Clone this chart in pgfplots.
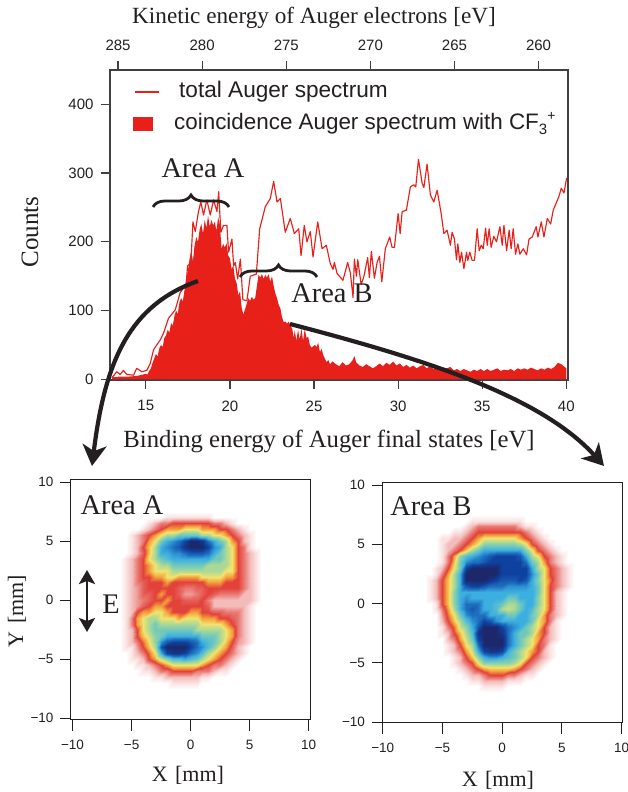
\documentclass[border=0pt]{standalone}
\usepackage{fontspec}
\setmainfont{Liberation Serif}
\setsansfont{Liberation Sans}
\usepackage{pgfplots}
\usepackage{pgfplotstable}
\pgfplotsset{compat=1.18}
\usetikzlibrary{arrows.meta,decorations.pathreplacing}
\definecolor{sred}{RGB}{232,32,26}
\definecolor{ink}{RGB}{35,31,32}
\definecolor{frame}{RGB}{64,64,64}
\pgfplotstableread{
x y
12.98 2
13.27 11
13.47 7
13.67 13
13.87 7
14.27 6
14.46 16
14.76 11
15.06 13
15.26 23
15.46 43
15.65 50
15.85 57
16.05 67
16.35 89
16.75 101
17.04 126
17.40 138
17.48 165
17.68 170
17.80 229
17.94 215
18.13 244
18.27 258
18.43 239
18.63 261
18.83 239
19.03 261
19.23 244
19.33 273
19.46 214
19.62 224
19.82 224
19.92 185
20.12 204
20.22 165
20.32 170
20.46 146
20.62 175
20.77 116
21.01 114
21.21 150
21.57 153
21.77 219
22.10 251
22.40 263
22.60 288
22.80 258
23.00 263
23.29 214
23.59 234
23.83 212
24.09 219
24.23 180
24.42 224
24.58 200
24.78 215
24.94 178
25.22 229
25.48 190
25.73 195
25.97 168
26.13 160
26.21 170
26.37 154
26.72 144
27.0 170
27.16 155
27.32 119
27.40 175
27.52 150
27.60 174
27.80 138
27.95 148
28.19 177
28.29 148
28.41 186
28.59 147
28.75 170
28.89 179
29.03 142
29.24 190
29.50 207
29.64 192
29.78 192
30.0 241
30.12 212
30.24 244
30.49 246
30.73 280
30.93 283
31.05 280
31.21 320
31.43 285
31.53 279
31.72 313
31.92 268
32.12 258
32.32 275
32.56 241
32.72 212
32.91 217
33.11 195
33.21 214
33.35 204
33.47 174
33.55 197
33.67 170
33.77 185
33.91 161
34.07 185
34.14 173
34.26 185
34.40 173
34.54 173
34.70 219
34.82 187
34.94 195
35.06 190
35.20 220
35.30 195
35.41 219
35.53 192
35.69 208
35.85 200
36.05 222
36.19 195
36.29 224
36.45 187
36.60 217
36.72 190
36.84 219
36.98 182
37.12 197
37.24 182
37.44 190
37.64 181
37.78 204
37.97 207
38.21 222
38.31 207
38.51 229
38.67 207
38.87 234
39.07 226
39.22 246
39.56 266
39.70 278
39.86 271
40.02 293
}\tabTotal
\pgfplotstableread{
x y
13.0 3
13.5 4
14.0 4
14.5 5
15.0 8
15.1 7
15.2 12
15.3 16
15.4 24
15.5 30
15.6 37
15.7 33
15.8 45
15.9 50
16.0 47
16.1 60
16.2 64
16.3 72
16.4 68
16.5 82
16.6 78
16.7 92
16.8 100
16.9 95
17.0 112
17.1 118
17.2 113
17.3 130
17.4 146
17.5 158
17.6 175
17.7 187
17.8 172
17.9 195
18.0 207
18.1 200
18.2 218
18.3 226
18.4 212
18.5 232
18.6 220
18.7 238
18.8 222
18.9 232
19.0 224
19.1 229
19.2 216
19.3 236
19.4 226
19.5 190
19.6 197
19.7 192
19.8 198
19.9 180
20.0 176
20.1 160
20.2 166
20.3 146
20.4 140
20.5 122
20.6 128
20.7 104
20.8 94
20.9 102
21.0 110
21.1 118
21.2 114
21.3 120
21.4 116
21.5 118
21.6 135
21.7 152
21.8 148
21.9 153
22.0 146
22.1 152
22.2 148
22.3 153
22.4 142
22.5 150
22.6 136
22.7 125
22.8 118
22.9 108
23.0 103
23.1 90
23.2 83
23.3 84
23.4 81
23.5 84
23.6 78
23.7 74
23.8 60
23.85 72
23.95 56
24.05 72
24.15 58
24.25 74
24.35 56
24.45 74
24.55 60
24.65 62
24.75 50
24.85 46
24.95 48
25.05 50
25.15 47
25.25 53
25.35 40
25.45 44
25.55 35
25.65 30
25.75 25
25.85 28
25.95 22
26.1 26
26.3 22
26.5 19
26.7 25
26.9 20
27.1 22
27.3 28
27.4 34
27.5 25
27.7 20
27.9 18
28.1 22
28.3 19
28.5 16
28.7 19
28.9 23
29.1 19
29.3 24
29.5 21
29.7 26
29.9 20
30.1 23
30.3 18
30.5 21
30.7 17
30.9 20
31.1 16
31.3 19
31.5 21
31.7 16
31.9 19
32.1 15
32.3 18
32.5 14
32.7 17
32.9 16
33.1 18
33.3 13
33.5 15
33.7 12
33.9 15
34.1 13
34.3 11
34.5 14
34.7 12
34.9 15
35.1 12
35.3 15
35.5 12
35.7 14
35.9 16
36.1 12
36.3 14
36.5 13
36.7 15
36.9 12
37.1 16
37.3 14
37.5 16
37.7 14
37.9 17
38.1 15
38.3 13
38.5 16
38.7 14
38.9 17
39.1 15
39.3 18
39.5 24
39.7 22
39.85 19
40.0 16
}\tabCoin
\pgfplotstableread[row sep=crcr]{
z\\
0\\0\\0\\0\\0\\0\\0\\0\\0\\0\\0\\0\\0\\0\\0\\0\\0\\0\\0\\0\\0\\0\\0\\0\\0\\0\\
0\\0\\0\\0\\0\\0\\0\\0\\0\\1\\1\\1\\1\\1\\1\\1\\1\\0\\0\\0\\0\\0\\0\\0\\0\\0\\
0\\0\\0\\0\\0\\0\\1\\2\\3\\3\\4\\4\\4\\4\\4\\4\\4\\3\\3\\2\\1\\0\\0\\0\\0\\0\\
0\\0\\0\\0\\0\\1\\2\\3\\4\\5\\5\\5\\6\\6\\6\\5\\5\\5\\4\\4\\3\\2\\1\\0\\0\\0\\
0\\0\\0\\1\\2\\3\\4\\5\\6\\7\\7\\8\\8\\8\\8\\7\\7\\6\\6\\5\\4\\3\\2\\1\\0\\0\\
0\\0\\0\\1\\2\\3\\5\\6\\8\\9\\9.5\\10\\11\\12\\12\\11.5\\10\\9\\8\\7\\5\\4\\2\\1\\0\\0\\
0\\0\\0\\1\\2\\4\\5.5\\7\\9\\9.5\\10\\10.5\\11.5\\12\\12\\12\\11\\9.5\\9\\7\\6\\4\\3\\1\\0\\0\\
0\\0\\0\\1\\2\\3.5\\5.5\\7\\9\\9\\9.5\\9.5\\10\\10.5\\10.5\\10.5\\10\\9\\8\\7\\6\\4\\3\\2\\1\\0\\
0\\0\\1\\2\\3\\4\\6\\7\\8\\8.5\\9\\9\\9\\9\\9\\9\\9\\8\\8\\7\\6\\4\\3\\2\\1\\0\\
0\\0\\1\\2\\3\\4\\5\\6\\7\\7\\8\\8\\8\\8\\8\\8\\7\\7\\7\\7\\6\\4\\3\\2\\1\\0\\
0\\0\\1\\2\\3\\4\\5\\6\\6\\6\\7\\7\\7\\7\\7\\7\\7\\7\\7\\6\\6\\4\\3\\2\\1\\0\\
0\\0\\1\\2\\3\\4\\4\\5\\5\\6\\6\\5\\5\\5\\5\\6\\6\\6\\6\\5\\5\\4\\3\\2\\1\\0\\
0\\0\\1\\2\\3\\3.5\\4\\4\\4\\5\\4\\4\\4\\4\\4\\4\\5\\5\\5\\4\\4\\4\\3\\2\\1\\0\\
0\\0\\1\\2\\2.5\\3.5\\4\\4\\4\\4\\4\\3.5\\3\\3\\3.5\\3.5\\4\\4\\4\\4\\4\\4\\3\\2\\1\\0\\
0\\0\\1\\2\\2.5\\3.5\\3.5\\4\\5\\4\\4\\3.5\\2.5\\2.5\\3\\3.5\\4\\3.5\\3\\3\\3\\3\\2\\2\\1\\0\\
0\\0\\1\\2\\2.5\\3\\3.5\\4\\4\\5\\4\\4\\3.5\\3.5\\3.5\\4\\3\\2\\2\\2\\2\\2\\2\\2\\1\\0\\
0\\0\\1\\2\\2.5\\3.5\\4\\5\\5\\4\\4\\4\\4\\4\\4\\4\\3.5\\2\\2\\2\\2\\2\\2\\1\\0\\0\\
0\\0\\1\\2\\4\\5\\5\\6\\6\\5\\4\\4\\4\\5\\5\\4\\4\\3.5\\3.5\\3\\3\\3\\2\\1\\0\\0\\
0\\0\\1\\3\\5\\6\\7\\7\\6\\6\\6\\5\\6\\6\\6\\5\\5\\5\\4\\4\\3.5\\3\\2\\1\\0\\0\\
0\\0\\1\\3\\5\\6\\7\\8\\7\\7\\7\\7\\7\\7\\7\\6\\6\\6\\6\\5\\4\\3\\2\\1\\0\\0\\
0\\0\\1\\2\\4\\6\\7\\8\\8\\8\\8\\8\\8\\8\\7\\7\\7\\7\\7\\6\\5\\3\\2\\1\\0\\0\\
0\\0\\1\\2\\4\\5.5\\6.5\\7.5\\8\\9\\9\\9\\9\\9\\9\\8\\8\\8\\7\\6\\5\\3\\2\\1\\0\\0\\
0\\0\\1\\2\\3\\4.5\\6\\7.5\\9.5\\10.5\\11\\11\\11\\10.5\\10\\9\\8.5\\8\\7\\5.5\\4\\2.5\\2\\1\\0\\0\\
0\\0\\1\\1\\2.5\\4\\5.5\\7\\10.5\\12\\12\\12\\12\\11\\10\\9.5\\8.5\\7.5\\6\\5\\3.5\\2\\1\\0\\0\\0\\
0\\0\\0\\1\\2\\3\\4.5\\6\\9\\11\\11.5\\11.5\\11\\10\\9.5\\8.5\\7\\6\\5\\4\\3\\2\\1\\0\\0\\0\\
0\\0\\0\\1\\1\\2\\4\\5\\6.5\\7.5\\8.5\\8.5\\9\\8.5\\8\\7\\6\\5\\4\\3\\2\\1\\0\\0\\0\\0\\
0\\0\\0\\0\\1\\1\\2\\3\\4\\5\\6\\6\\6\\6\\6\\5\\4\\3\\3\\2\\1\\0\\0\\0\\0\\0\\
0\\0\\0\\0\\0\\1\\1\\2\\3\\3\\4\\4\\4\\4\\3\\3\\3\\2\\1\\1\\0\\0\\0\\0\\0\\0\\
0\\0\\0\\0\\0\\0\\0\\1\\1\\2\\2\\2\\2\\2\\2\\1\\1\\0\\0\\0\\0\\0\\0\\0\\0\\0\\
0\\0\\0\\0\\0\\0\\0\\0\\0\\0\\1\\1\\1\\1\\1\\0\\0\\0\\0\\0\\0\\0\\0\\0\\0\\0\\
0\\0\\0\\0\\0\\0\\0\\0\\0\\0\\0\\0\\0\\0\\0\\0\\0\\0\\0\\0\\0\\0\\0\\0\\0\\0\\
}\tabA
\pgfplotstableread[row sep=crcr]{
z\\
0\\0\\0\\0\\0\\0\\0\\0\\0\\0\\0\\0\\0\\0\\0\\0\\0\\0\\0\\0\\0\\0\\0\\0\\0\\0\\
0\\0\\0\\0\\0\\0\\0\\0\\1\\1\\1\\1\\1\\1\\1\\1\\1\\0\\0\\0\\0\\0\\0\\0\\0\\0\\
0\\0\\0\\0\\0\\0\\0\\1\\2\\3\\3\\3\\3\\3\\3\\3\\2\\1\\1\\0\\0\\0\\0\\0\\0\\0\\
0\\0\\0\\0\\0\\1\\1\\2\\3\\4\\4\\4\\4\\4\\4\\4\\4\\3\\2\\1\\0\\0\\0\\0\\0\\0\\
0\\0\\0\\1\\1\\2\\2\\3\\4\\5\\6\\6\\6\\6\\6\\6\\5\\4\\3\\2\\1\\0\\0\\0\\0\\0\\
0\\0\\0\\1\\2\\2\\3\\4\\5\\6\\7.5\\7.5\\7.5\\7.5\\7.5\\7.5\\7\\6\\4\\3\\2\\1\\0\\0\\0\\0\\
0\\0\\0\\1\\2\\3\\4\\5.5\\7\\8\\9\\9\\9\\9\\9\\9\\9\\7.5\\6\\4\\3\\2\\1\\0\\0\\0\\
0\\0\\0\\1\\3\\5\\7.5\\8.5\\9\\9.5\\10\\10.5\\11\\11\\11\\11\\10.5\\9\\7\\6\\4\\3\\2\\1\\0\\0\\
0\\0\\0\\1\\3\\5.5\\8\\9.5\\10\\10\\10.5\\11\\11\\11\\11\\11\\11\\10\\8\\7\\5\\3\\2\\1\\0\\0\\
0\\0\\1\\2\\4\\6\\8\\11\\12\\12\\12\\12\\12\\11\\11\\11\\11\\11\\9\\7\\6\\4\\3\\2\\1\\0\\
0\\0\\1\\3\\5\\7\\9\\12\\12\\12\\12\\12\\12\\11\\11\\11\\11\\11\\9.5\\8\\6\\4\\3\\2\\1\\0\\
0\\1\\2\\4\\5.5\\7\\9\\12\\12\\12\\12\\11.5\\11\\10.5\\10.5\\10.5\\11\\10.5\\9\\7.5\\6\\4.5\\3\\2\\1\\0\\
0\\1\\2\\4\\5.5\\7\\9\\10.5\\11\\11\\10.5\\10\\10\\10\\9.5\\9.5\\9.5\\9.5\\9\\8\\6\\4\\3\\2\\1\\0\\
0\\1\\2\\4\\5.5\\7.5\\9\\9\\9\\9\\9\\9\\9\\9\\9\\9\\9\\9\\9\\8\\6\\4\\2\\1\\0\\0\\
0\\1\\2\\4\\5.5\\7.5\\9\\9.5\\9\\9\\9\\9\\9\\9\\8\\8\\9\\9\\9\\7.5\\6\\4\\2\\1\\0\\0\\
0\\0\\1\\4\\5.5\\7.5\\9\\10\\10\\10\\9\\9\\8.5\\8\\7\\7\\8\\9\\9\\7.5\\6\\4\\2\\1\\0\\0\\
0\\0\\1\\3\\5\\7\\9\\10\\10.5\\10\\9\\9\\8.5\\7\\6.5\\7\\8\\9\\8.5\\7\\6\\4\\2\\1\\0\\0\\
0\\0\\0\\2.5\\4.5\\6\\8\\9.5\\10\\10\\10\\9\\9\\9\\8\\8\\9\\9\\8\\7\\5\\3\\2\\1\\0\\0\\
0\\0\\0\\2\\4\\5.5\\7\\8.5\\9.5\\10\\11\\10.5\\9.5\\9\\9\\9\\9\\9\\8\\6\\5\\3\\1\\0\\0\\0\\
0\\0\\0\\1\\3\\4.5\\6.5\\7.5\\9\\10.5\\12\\12\\12\\11\\10\\9.5\\9\\8\\7\\6\\4\\2\\1\\0\\0\\0\\
0\\0\\0\\1\\2\\4\\5.5\\7\\8.5\\11.5\\12\\12\\12\\11.5\\10\\9\\8\\8\\7\\5\\4\\2\\1\\0\\0\\0\\
0\\0\\0\\0\\2\\3\\5\\6.5\\8\\11\\12\\12\\12\\12\\10\\9\\8\\7\\6\\5\\3\\2\\1\\0\\0\\0\\
0\\0\\0\\0\\1\\2\\4\\6\\7\\10\\12\\12\\12\\12\\10\\9\\8\\7\\6\\4\\3\\1\\0\\0\\0\\0\\
0\\0\\0\\0\\1\\2\\3\\5\\6.5\\9\\11\\11.5\\11.5\\11\\9\\8\\7\\6\\5\\4\\2\\1\\0\\0\\0\\0\\
0\\0\\0\\0\\0\\1\\2\\4\\5.5\\7.5\\9\\9.5\\9.5\\9\\8.5\\8\\7\\6\\4\\3\\2\\1\\0\\0\\0\\0\\
0\\0\\0\\0\\0\\1\\2\\3\\4\\6\\7.5\\7.5\\7.5\\7.5\\7.5\\7\\6\\4\\3\\2\\1\\0\\0\\0\\0\\0\\
0\\0\\0\\0\\0\\0\\1\\2\\3\\4\\5\\5.5\\5.5\\5.5\\5.5\\5\\4\\3\\2\\1\\0\\0\\0\\0\\0\\0\\
0\\0\\0\\0\\0\\0\\0\\1\\2\\2\\3\\4\\4\\4\\3\\3\\2\\1\\1\\0\\0\\0\\0\\0\\0\\0\\
0\\0\\0\\0\\0\\0\\0\\0\\1\\1\\2\\2\\2\\2\\1\\1\\1\\0\\0\\0\\0\\0\\0\\0\\0\\0\\
0\\0\\0\\0\\0\\0\\0\\0\\0\\0\\1\\1\\1\\1\\0\\0\\0\\0\\0\\0\\0\\0\\0\\0\\0\\0\\
0\\0\\0\\0\\0\\0\\0\\0\\0\\0\\0\\0\\0\\0\\0\\0\\0\\0\\0\\0\\0\\0\\0\\0\\0\\0\\
}\tabB
\pgfplotsset{
  base/.style={scale only axis, tick align=outside, major tick length=9pt, axis line style={frame,line width=1.4pt},
    tick style={frame,line width=1.2pt}, minor tick num=0,
    ticklabel style={font=\sffamily\fontsize{15}{17}\selectfont, text=ink},
    xticklabel style={yshift=-8pt}, yticklabel style={xshift=-4pt},
    /pgf/number format/assume math mode=true, clip=true},
  heat/.style={scale only axis, tick align=outside, major tick length=10.5pt, axis line style={ink,line width=1pt},
    tick style={ink,line width=1pt}, xtick={-10,-5,0,5,10}, ytick={-10,-5,0,5,10},
    xticklabels={−10,−5,0,5,10}, yticklabels={−10,−5,0,5,10},
    xtick pos=bottom, ytick pos=left, width=240pt, height=240pt,
    ticklabel style={font=\sffamily\fontsize{13.5}{15}\selectfont, text=ink},
    xticklabel style={yshift=-6pt}, yticklabel style={xshift=-3pt},
    point meta min=0, point meta max=12,
    colormap={auger}{rgb255=(255,255,255) rgb255=(250,226,226) rgb255=(243,188,186) rgb255=(234,122,116) rgb255=(226,66,58) rgb255=(244,160,60) rgb255=(240,228,110) rgb255=(170,216,150) rgb255=(110,200,190) rgb255=(60,175,225) rgb255=(30,110,190) rgb255=(15,65,160) rgb255=(28,40,105)}},
  cell/.style={surf, shader=interp, mesh/cols=26, point meta=explicit}
}
\newcommand{\serif}[1]{\fontsize{#1}{#1}\selectfont}
\begin{document}
\begin{tikzpicture}
\path[use as bounding box] (0pt,0pt) rectangle (628pt,792pt);
\begin{axis}[base, at={(110pt,412pt)}, anchor=south west, width=458pt, height=310pt,
  xmin=12.87, xmax=40.1, ymin=-1, ymax=450, xtick={15,20,25,30,35,40}, ytick={0,100,200,300,400},
  xtick pos=bottom, ytick pos=left]
\addplot[draw=none, fill=sred] table[x=x,y=y]{\tabCoin} \closedcycle;
\addplot[sred, line width=1.15pt, line join=round] table[x=x,y=y]{\tabTotal};
\end{axis}
\begin{axis}[base, at={(110pt,412pt)}, anchor=south west, width=458pt, height=310pt,
  x dir=reverse, xmin=258.25, xmax=285.48, ymin=-1, ymax=450, xtick={260,265,270,275,280,285}, ytick=\empty,
  xtick pos=top, axis line style={draw=none}, xticklabel style={yshift=15pt}]
\addplot[draw=none] coordinates {(270,0)};
\end{axis}
\begin{axis}[heat, at={(70.5pt,72pt)}, anchor=south west, xmin=-10.17, xmax=10.15, ymin=-10.14, ymax=10.17]
\addplot[cell] table[x=z, y=z, x expr={-6.5+0.5*mod(\coordindex,26)}, y expr={7.5-0.5*floor(\coordindex/26)}, meta=z]{\tabA};
\end{axis}
\begin{axis}[heat, at={(382pt,69pt)}, anchor=south west, xmin=-10.06, xmax=10.03, ymin=-10.08, ymax=10.17]
\addplot[cell] table[x=z, y=z, x expr={-6.5+0.5*mod(\coordindex,26)}, y expr={7.5-0.5*floor(\coordindex/26)}, meta=z]{\tabB};
\end{axis}
\begin{scope}[x=1pt,y=-1pt,yshift=792pt,text=ink]
\node at (314,18) {\serif{23.2}Kinetic energy of Auger electrons [eV]};
\node at (329,441) {\serif{24.7}Binding energy of Auger final states [eV]};
\node[rotate=90] at (30,232) {\serif{25}Counts};
\node[rotate=90] at (17,611) {\serif{22}Y\,\,[mm]};
\node at (188,775) {\serif{22}X\,\,[mm]};
\node at (498,780) {\serif{22}X\,\,[mm]};
\node at (203,168) {\serif{28.4}Area A};
\node at (332,293) {\serif{28.4}Area B};
\node at (122,505) {\serif{28.4}Area A};
\node at (431,506) {\serif{28.4}Area B};
\node at (111,604) {\serif{28.4}E};
\draw[sred,line width=1.2pt] (135,92)--(159,92);
\fill[sred] (133,117) rectangle (153,131);
\node[anchor=west,inner sep=0pt] at (179,92) {\sffamily\fontsize{22.6}{24}\selectfont total Auger spectrum};
\node[anchor=west,inner sep=0pt] at (174,124) {\sffamily\fontsize{22.4}{24}\selectfont coincidence Auger spectrum with CF\raisebox{-5pt}{\fontsize{15}{15}\selectfont 3}\raisebox{9pt}{\fontsize{14}{14}\selectfont +}};
\draw[ink,line width=2.8pt,decorate,decoration={brace,amplitude=12pt}] (153,207)--(229,207);
\draw[ink,line width=2.8pt,decorate,decoration={brace,amplitude=12pt}] (240,277)--(317,277);
\draw[ink,line width=4.2pt,-{Stealth[length=21pt,width=24pt,inset=6pt]}] (198,281) .. controls (130,305) and (105,360) .. (92,466);
\draw[ink,line width=4.2pt,-{Stealth[length=21pt,width=24pt,inset=6pt]}] (290,324) .. controls (420,358) and (540,395) .. (604,466);
\draw[ink,line width=2.6pt,{Stealth[length=14pt,width=16pt,inset=3pt]}-{Stealth[length=14pt,width=16pt,inset=3pt]}] (87,570)--(87,632);
\end{scope}
\end{tikzpicture}
\end{document}
